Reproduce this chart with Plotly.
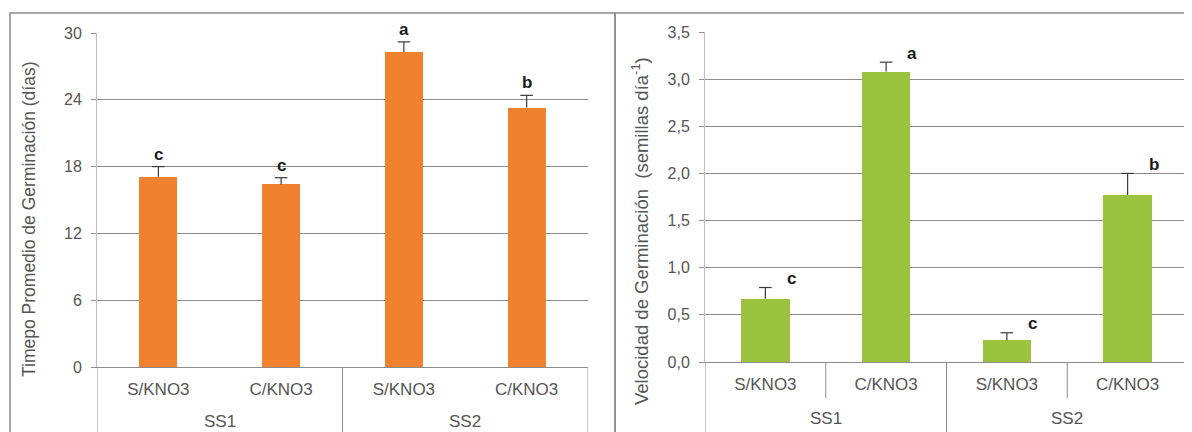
import plotly.graph_objects as go

# ---- data ----
grupos = ["SS1", "SS1", "SS2", "SS2"]
tratamientos = ["S/KNO3", "C/KNO3", "S/KNO3", "C/KNO3"]

tiempo = [17.1, 16.4, 28.3, 23.3]
tiempo_err = [0.9, 0.6, 0.9, 1.1]
tiempo_letras = ["c", "c", "a", "b"]

velocidad = [0.67, 3.08, 0.23, 1.77]
velocidad_err = [0.12, 0.10, 0.08, 0.23]
velocidad_letras = ["c", "a", "c", "b"]

ticks_tiempo = [0, 6, 12, 18, 24, 30]
ticks_vel = [0.0, 0.5, 1.0, 1.5, 2.0, 2.5, 3.0, 3.5]
ticks_vel_txt = ["0,0", "0,5", "1,0", "1,5", "2,0", "2,5", "3,0", "3,5"]

titulo_y1 = "Timepo Promedio de Germinación (días)"
titulo_y2 = "Velocidad de Germinación  (semillas día<sup>-1</sup>)"

# ---- style ----
OFF = 8                      # page body margin of the browser
W, H = 1192 - OFF, 432 - OFF
ORANGE = "#F0812E"
GREEN = "#9CC33F"
GRID = "#8C8C8C"
TXT = "#555555"
ERR = "#3a3a3a"
FONT = "Liberation Sans, Arial, sans-serif"


def px_x(p):
    return (p - OFF) / W


def px_y(p):
    return 1 - (p - OFF) / H


pos = list(range(len(tratamientos)))

# group centres and boundaries derived from the group list
grupo_nombres = []
for g in grupos:
    if g not in grupo_nombres:
        grupo_nombres.append(g)
grupo_centros = [sum(i for i, g in enumerate(grupos) if g == n) /
                 grupos.count(n) for n in grupo_nombres]
limites_grupo = [-0.5] + [i + 0.5 for i in range(len(grupos) - 1)
                          if grupos[i] != grupos[i + 1]] + [len(grupos) - 0.5]
limites_internos = [i + 0.5 for i in range(len(grupos) - 1)
                    if grupos[i] == grupos[i + 1]]

fig = go.Figure()


def add_panel(vals, errs, color, width, xa, ya):
    fig.add_trace(go.Bar(
        x=pos, y=vals, width=width,
        marker=dict(color=color, line=dict(width=0)),
        xaxis=xa, yaxis=ya, showlegend=False, hoverinfo="skip",
    ))
    # upper error bars only (stem + cap), like the original
    xs, ys = [], []
    for i, v, e in zip(pos, vals, errs):
        xs += [i, i, None]
        ys += [v, v + e, None]
    fig.add_trace(go.Scatter(
        x=xs, y=ys, mode="lines", line=dict(color=ERR, width=1.2),
        xaxis=xa, yaxis=ya, showlegend=False, hoverinfo="skip",
    ))
    fig.add_trace(go.Scatter(
        x=pos, y=[v + e for v, e in zip(vals, errs)], mode="markers",
        marker=dict(symbol="line-ew", size=9,
                    line=dict(color=ERR, width=1.2)),
        xaxis=xa, yaxis=ya, showlegend=False, hoverinfo="skip",
    ))


add_panel(tiempo, tiempo_err, ORANGE, 0.31, "x", "y")
add_panel(velocidad, velocidad_err, GREEN, 0.40, "x2", "y2")

annotations = []
letter_font = dict(family=FONT, size=17, color="#1a1a1a", weight="bold")
for i, (v, e, t) in enumerate(zip(tiempo, tiempo_err, tiempo_letras)):
    annotations.append(dict(x=i, y=v + e, xref="x", yref="y", text=t,
                            showarrow=False, yanchor="bottom", yshift=1,
                            font=letter_font))
for i, (v, e, t) in enumerate(zip(velocidad, velocidad_err, velocidad_letras)):
    annotations.append(dict(x=i, y=v + e, xref="x2", yref="y2", text=t,
                            showarrow=False, yanchor="middle", yshift=9,
                            xshift=26, font=letter_font))

group_font = dict(family=FONT, size=17, color=TXT)
for c, n in zip(grupo_centros, grupo_nombres):
    annotations.append(dict(x=c, y=px_y(421), xref="x", yref="paper", text=n,
                            showarrow=False, yanchor="middle", font=group_font))
    annotations.append(dict(x=c, y=px_y(418), xref="x2", yref="paper", text=n,
                            showarrow=False, yanchor="middle", font=group_font))

# y-axis titles
annotations.append(dict(x=px_x(29), y=px_y(220), xref="paper", yref="paper",
                        text=titulo_y1, textangle=-90, showarrow=False,
                        xanchor="center", yanchor="middle",
                        font=dict(family=FONT, size=17.5, color=TXT)))
annotations.append(dict(x=px_x(640), y=px_y(231), xref="paper", yref="paper",
                        text=titulo_y2, textangle=-90, showarrow=False,
                        xanchor="center", yanchor="middle",
                        font=dict(family=FONT, size=18.5, color=TXT)))

xaxis_common = dict(
    showgrid=False, zeroline=False, showline=True, linecolor=GRID,
    linewidth=1, range=[-0.5, len(pos) - 0.5],
    tickvals=pos, ticktext=tratamientos,
    ticks="outside", ticklen=7, tickcolor="rgba(0,0,0,0)",
    tickfont=dict(family=FONT, size=17, color=TXT),
    automargin=False, fixedrange=True,
)
yaxis_common = dict(
    showgrid=True, gridcolor=GRID, gridwidth=1, zeroline=False,
    showline=True, linecolor="#BFBFBF", linewidth=1,
    ticks="outside", ticklen=5, tickcolor=GRID, ticklabelstandoff=6,
    tickfont=dict(family=FONT, size=16, color=TXT),
    automargin=False, fixedrange=True,
)

shapes = [
    # outer panel frames
    dict(type="rect", xref="paper", yref="paper",
         x0=px_x(10), x1=px_x(615), y0=px_y(445), y1=px_y(13),
         line=dict(color="#8A8A8A", width=1.5)),
    dict(type="rect", xref="paper", yref="paper",
         x0=px_x(615), x1=px_x(1205), y0=px_y(445), y1=px_y(13),
         line=dict(color="#8A8A8A", width=1.5)),
]
for b in limites_grupo:
    shapes.append(dict(type="line", xref="x", yref="paper", x0=b, x1=b,
                       y0=px_y(367), y1=px_y(440),
                       line=dict(color=GRID, width=1)))
    shapes.append(dict(type="line", xref="x2", yref="paper", x0=b, x1=b,
                       y0=px_y(362), y1=px_y(440),
                       line=dict(color=GRID, width=1)))
for b in limites_internos:
    shapes.append(dict(type="line", xref="x2", yref="paper", x0=b, x1=b,
                       y0=px_y(362), y1=px_y(398),
                       line=dict(color=GRID, width=1)))

fig.update_layout(
    width=W, height=H,
    margin=dict(l=0, r=0, t=0, b=0),
    paper_bgcolor="white", plot_bgcolor="white",
    font=dict(family=FONT, color=TXT),
    xaxis=dict(domain=[px_x(97), px_x(588)], anchor="y", **xaxis_common),
    yaxis=dict(domain=[px_y(367), px_y(33)], anchor="x",
               range=[0, 30], tickvals=ticks_tiempo, **yaxis_common),
    xaxis2=dict(domain=[px_x(705), px_x(1188)], anchor="y2", **xaxis_common),
    yaxis2=dict(domain=[px_y(362), px_y(32)], anchor="x2",
                range=[0, 3.5], tickvals=ticks_vel, ticktext=ticks_vel_txt,
                **yaxis_common),
    annotations=annotations,
    shapes=shapes,
    bargap=0,
)

fig.write_html("out.html")
